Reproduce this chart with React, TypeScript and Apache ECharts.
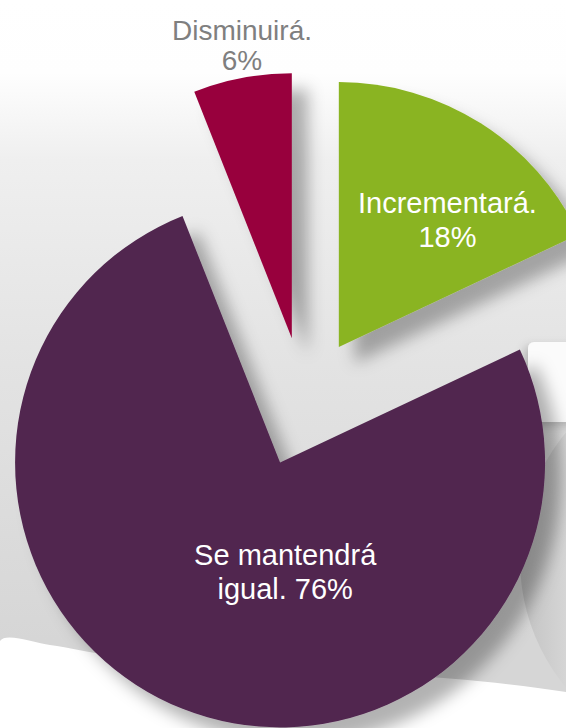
import React, { useEffect, useRef } from 'react';
import * as echarts from 'echarts';

const categories = ['Incrementará', 'Se mantendrá igual', 'Disminuirá'];
const values = [18, 76, 6];
const sliceColors = ['#8ab422', '#51284f', '#98003d'];
const labelColors = ['#ffffff', '#ffffff', '#7f7f7f'];

const FONT = '"Liberation Sans", Arial, Helvetica, sans-serif';

function breakLabel(text: string): string {
  const spaces: number[] = [];
  for (let i = 0; i < text.length; i++) if (text[i] === ' ') spaces.push(i);
  if (!spaces.length) return text;
  const mid = text.length / 2;
  let best = spaces[0];
  for (const s of spaces) if (Math.abs(s - mid) < Math.abs(best - mid)) best = s;
  return text.slice(0, best) + '\n' + text.slice(best + 1);
}

export default function App() {
  const ref = useRef<HTMLDivElement>(null);
  useEffect(() => {
    document.body.style.margin = '0';
    const chart = echarts.init(ref.current!, null, { renderer: 'svg' });
    // horizontal nudge (padding) and vertical nudge (blank spacer line) for the inside labels
    const labelPadding = [
      [0, 0, 0, 72],
      [0, 0, 0, 110],
      [0, 0, 0, 0],
    ];
    const spacer = [26, 32, 0];
    const outsideIdx = 2; // "Disminuirá" label sits above its slice
    chart.setOption({
      animation: false,
      backgroundColor: '#ffffff',
      title: {
        text: breakLabel(`${categories[outsideIdx]}. ${values[outsideIdx]}%`),
        left: 242,
        top: 15,
        textAlign: 'center',
        padding: 0,
        textStyle: {
          fontFamily: FONT,
          fontSize: 28,
          lineHeight: 30,
          fontWeight: 'normal',
          color: labelColors[outsideIdx],
        },
      },
      graphic: [
        {
          type: 'rect',
          z: 0,
          shape: { x: 0, y: 0, width: 566, height: 728 },
          style: {
            fill: new echarts.graphic.LinearGradient(0, 0, 0, 1, [
              { offset: 0, color: '#ffffff' },
              { offset: 0.1, color: '#fefefe' },
              { offset: 0.22, color: '#efefef' },
              { offset: 0.5, color: '#e3e3e3' },
              { offset: 0.88, color: '#d6d6d6' },
            ]),
          },
        },
        {
          type: 'polygon',
          z: 1,
          shape: {
            points: [
              [0, 641],
              [50, 645],
              [110, 655],
              [566, 692],
              [566, 728],
              [0, 728],
            ],
            smooth: 0.3,
          },
          style: { fill: '#ffffff' },
        },
        {
          type: 'circle',
          z: 1,
          shape: { cx: 720, cy: 560, r: 200 },
          style: {
            fill: new echarts.graphic.LinearGradient(0, 0, 1, 0, [
              { offset: 0, color: '#c2c2c2' },
              { offset: 0.12, color: '#d6d6d6' },
              { offset: 0.3, color: '#ececec' },
              { offset: 1, color: '#f4f4f4' },
            ]),
          },
        },
        {
          type: 'rect',
          z: 1,
          shape: { x: 528, y: 342, width: 60, height: 80, r: 6 },
          style: {
            fill: '#fbfbfb',
            shadowBlur: 10,
            shadowColor: 'rgba(0,0,0,0.2)',
            shadowOffsetX: -4,
            shadowOffsetY: 4,
          },
        },
      ],
      series: [
        {
          type: 'pie',
          z: 5,
          center: [304, 402],
          radius: 265,
          startAngle: 90,
          clockwise: true,
          selectedMode: 'multiple',
          selectedOffset: 65,
          avoidLabelOverlap: false,
          labelLine: { show: false },
          emphasis: { disabled: true },
          select: { itemStyle: { borderWidth: 0 } },
          itemStyle: {
            shadowBlur: 16,
            shadowOffsetX: 16,
            shadowOffsetY: 16,
            shadowColor: 'rgba(0,0,0,0.3)',
          },
          label: {
            show: true,
            position: 'inside',
            overflow: 'none',
            fontFamily: FONT,
            fontSize: 29,
            lineHeight: 34,
            align: 'center',
            formatter: (p: any) =>
              breakLabel(`${p.name}. ${p.value}%`)
                .split('\n')
                .map((l) => `{t|${l}}`)
                .join('\n') + `\n{s${p.dataIndex}| }`,
            rich: {
              t: { fontFamily: FONT, fontSize: 29, lineHeight: 34 },
              s0: { fontSize: 1, lineHeight: spacer[0] },
              s1: { fontSize: 1, lineHeight: spacer[1] },
              s2: { fontSize: 1, lineHeight: spacer[2] },
            },
          },
          data: categories.map((name, i) => ({
            name,
            value: values[i],
            selected: true,
            itemStyle: { color: sliceColors[i] },
            label: {
              show: i !== outsideIdx,
              color: labelColors[i],
              padding: labelPadding[i],
            },
          })),
        },
      ],
    });
    return () => chart.dispose();
  }, []);
  return <div ref={ref} style={{ width: 566, height: 728 }} />;
}
